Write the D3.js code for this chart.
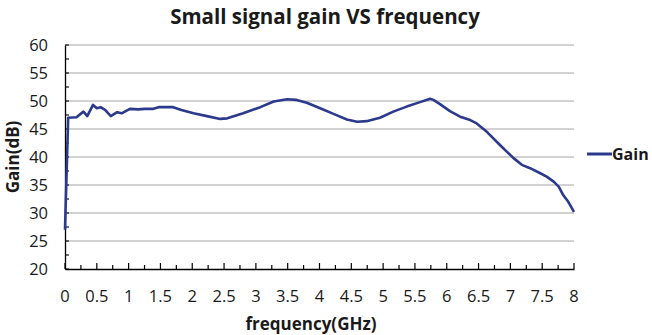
<!DOCTYPE html>
<html><head><meta charset="utf-8">
<script src="https://cdn.jsdelivr.net/npm/d3@7"></script>
<style>body{margin:0;background:#fff}</style>
</head><body>
<svg id="c" width="652" height="335"></svg>
<script>
const freq = [0, 0.05, 0.18, 0.29, 0.35, 0.44, 0.50, 0.56, 0.63, 0.72, 0.82, 0.89, 1.02, 1.15, 1.25, 1.39, 1.47, 1.60, 1.70, 1.83, 2.02, 2.23, 2.44, 2.55, 2.80, 3.07, 3.28, 3.49, 3.64, 3.80, 4.01, 4.22, 4.43, 4.59, 4.74, 4.95, 5.16, 5.37, 5.58, 5.74, 5.79, 5.90, 6.05, 6.21, 6.37, 6.47, 6.63, 6.84, 7.05, 7.18, 7.31, 7.47, 7.57, 7.68, 7.76, 7.83, 7.91, 8.0];
const gain = [27.0, 47.0, 47.1, 48.1, 47.3, 49.3, 48.7, 48.9, 48.4, 47.3, 48.0, 47.8, 48.6, 48.5, 48.6, 48.6, 48.9, 48.9, 48.9, 48.4, 47.8, 47.3, 46.8, 46.9, 47.8, 48.9, 49.9, 50.3, 50.2, 49.7, 48.7, 47.7, 46.7, 46.3, 46.4, 47.0, 48.1, 49.0, 49.8, 50.4, 50.2, 49.4, 48.2, 47.2, 46.6, 46.0, 44.5, 42.1, 39.8, 38.6, 38.0, 37.1, 36.5, 35.6, 34.7, 33.2, 32.0, 30.2];
const xTicks = [0, 0.5, 1, 1.5, 2, 2.5, 3, 3.5, 4, 4.5, 5, 5.5, 6, 6.5, 7, 7.5, 8];
const yTicks = [20, 25, 30, 35, 40, 45, 50, 55, 60];
const seriesName = "Gain";

const svg = d3.select("#c");
const font = "'Open Sans', sans-serif";
const x = d3.scaleLinear().domain([0, 8]).range([65, 574]);
const y = d3.scaleLinear().domain([20, 60]).range([269, 45]);

// gridlines
svg.append("g").selectAll("line").data(yTicks.filter(d => d > 20)).join("line")
  .attr("x1", x(0)).attr("x2", x(8)).attr("y1", d => y(d)).attr("y2", d => y(d))
  .attr("stroke", "#a6a6a6").attr("stroke-width", 1.2);

// x axis
const xMinor = d3.range(0, 8.001, 0.25);
const xa = svg.append("g").attr("transform", `translate(0,${y(20)})`)
  .call(d3.axisBottom(x).tickValues(xMinor).tickSize(0).tickFormat(""));
xa.select(".domain").attr("stroke", "#000").attr("stroke-width", 1.3);
svg.append("g").selectAll("line").data(xMinor).join("line")
  .attr("x1", d => x(d)).attr("x2", d => x(d))
  .attr("y1", y(20)).attr("y2", (d, i) => y(20) - (i % 2 === 0 ? 6 : 4))
  .attr("stroke", "#000").attr("stroke-width", 1.2);
svg.append("g").selectAll("text").data(xTicks).join("text")
  .attr("x", d => x(d)).attr("y", 302).attr("text-anchor", "middle")
  .attr("font-family", font).attr("font-size", 16.5).attr("fill", "#1a1a1a")
  .text(d => d);

// y axis
const ya = svg.append("g").attr("transform", `translate(${x(0)},0)`)
  .call(d3.axisLeft(y).tickValues(yTicks).tickSize(0).tickFormat(""));
ya.select(".domain").attr("stroke", "#000").attr("stroke-width", 1.3);
svg.append("g").selectAll("line").data(d3.range(20, 60.001, 2.5)).join("line")
  .attr("x1", x(0)).attr("x2", x(0) + 4).attr("y1", d => y(d)).attr("y2", d => y(d))
  .attr("stroke", "#000").attr("stroke-width", 1.1);
svg.append("g").selectAll("text").data(yTicks).join("text")
  .attr("x", 48).attr("y", d => y(d) + 6).attr("text-anchor", "end")
  .attr("font-family", font).attr("font-size", 16.5).attr("fill", "#1a1a1a")
  .text(d => d);

// line
const pts = freq.map((f, i) => [f, gain[i]]);
svg.append("path").datum(pts)
  .attr("d", d3.line().x(d => x(d[0])).y(d => y(d[1])))
  .attr("fill", "none").attr("stroke", "#2b3a8c").attr("stroke-width", 2.6)
  .attr("stroke-linejoin", "round");

// title & labels
svg.append("text").attr("x", 325).attr("y", 24).attr("text-anchor", "middle")
  .attr("font-family", font).attr("font-weight", "bold").attr("font-size", 20.5)
  .attr("fill", "#1a1a1a").text("Small signal gain VS frequency");
svg.append("text").attr("x", 311).attr("y", 330).attr("text-anchor", "middle")
  .attr("font-family", font).attr("font-weight", "bold").attr("font-size", 17)
  .attr("fill", "#1a1a1a").text("frequency(GHz)");
svg.append("text").attr("transform", "translate(19,157) rotate(-90)").attr("text-anchor", "middle")
  .attr("font-family", font).attr("font-weight", "bold").attr("font-size", 17)
  .attr("fill", "#1a1a1a").text("Gain(dB)");

// legend
svg.append("line").attr("x1", 587).attr("x2", 612).attr("y1", 154).attr("y2", 154)
  .attr("stroke", "#2b3a8c").attr("stroke-width", 3);
svg.append("text").attr("x", 612).attr("y", 160)
  .attr("font-family", font).attr("font-weight", "bold").attr("font-size", 16)
  .attr("fill", "#1a1a1a").text(seriesName);
</script>
</body></html>
